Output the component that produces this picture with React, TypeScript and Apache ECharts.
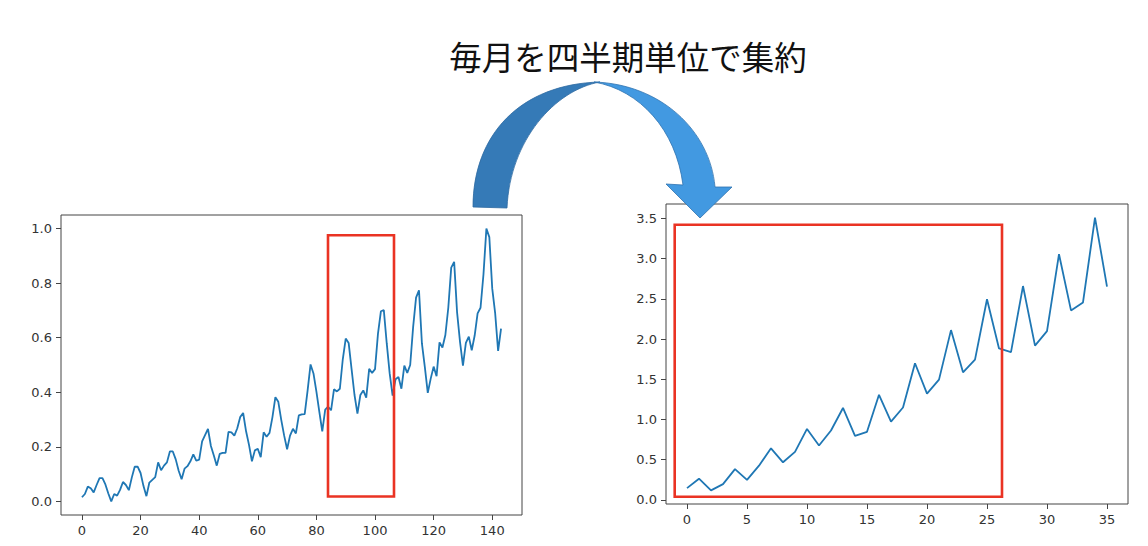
import React, { useEffect, useRef } from "react";
import * as echarts from "echarts";

const titleText = "毎月を四半期単位で集約";

// monthly values, min-max normalised (index 0..143)
const monthly: number[] = [
  0.015, 0.027, 0.054, 0.048, 0.033, 0.06, 0.085, 0.085, 0.062, 0.029, 0.0, 0.027,
  0.021, 0.042, 0.071, 0.06, 0.041, 0.087, 0.127, 0.127, 0.104, 0.056, 0.019, 0.069,
  0.079, 0.089, 0.143, 0.114, 0.131, 0.143, 0.183, 0.183, 0.154, 0.112, 0.081, 0.12,
  0.129, 0.147, 0.172, 0.149, 0.153, 0.22, 0.243, 0.266, 0.203, 0.168, 0.131, 0.174,
  0.178, 0.178, 0.255, 0.253, 0.241, 0.268, 0.309, 0.324, 0.257, 0.207, 0.147, 0.187,
  0.193, 0.162, 0.253, 0.237, 0.251, 0.309, 0.382, 0.365, 0.299, 0.241, 0.191, 0.241,
  0.266, 0.249, 0.315, 0.319, 0.32, 0.407, 0.502, 0.469, 0.402, 0.328, 0.257, 0.336,
  0.347, 0.334, 0.411, 0.403, 0.413, 0.521, 0.597, 0.581, 0.485, 0.39, 0.322, 0.39,
  0.407, 0.38, 0.486, 0.471, 0.485, 0.614, 0.697, 0.701, 0.579, 0.469, 0.388, 0.448,
  0.456, 0.413, 0.498, 0.471, 0.5, 0.639, 0.747, 0.774, 0.579, 0.492, 0.398, 0.45,
  0.494, 0.459, 0.583, 0.564, 0.61, 0.71, 0.857, 0.878, 0.693, 0.585, 0.498, 0.581,
  0.604, 0.554, 0.608, 0.689, 0.71, 0.832, 1.0, 0.969, 0.78, 0.689, 0.552, 0.633,
];

// aggregated values (index 0..35)
const aggregated: number[] = [
  0.145, 0.263, 0.118, 0.195, 0.382, 0.249, 0.425, 0.641, 0.467, 0.597, 0.882, 0.676,
  0.863, 1.143, 0.797, 0.846, 1.307, 0.973, 1.149, 1.699, 1.322, 1.496, 2.112, 1.587,
  1.745, 2.496, 1.884, 1.838, 2.66, 1.919, 2.1, 3.056, 2.357, 2.456, 3.512, 2.654,
];

const leftXTicks = [0, 20, 40, 60, 80, 100, 120, 140];
const leftYTicks = [0, 0.2, 0.4, 0.6, 0.8, 1.0];
const rightXTicks = [0, 5, 10, 15, 20, 25, 30, 35];
const rightYTicks = [0, 0.5, 1.0, 1.5, 2.0, 2.5, 3.0, 3.5];

const ARROW_BACK =
  "M 473 207 C 473 135 520 84 600 82 C 555 90 510 140 507 208 Z";
const ARROW_FRONT =
  "M 594 82 C 660 84 710 130 715 187 L 732 187 L 700 218 L 666 184 L 683 185 C 676 130 640 90 594 82 Z";

echarts.graphic.registerShape("arrowBack", echarts.graphic.extendPath(ARROW_BACK, {}));
echarts.graphic.registerShape("arrowFront", echarts.graphic.extendPath(ARROW_FRONT, {}));

const FRAME = "#444";
const LABEL = "#333";
const LINE = "#1f77b4";
const RED = "#ea3323";

function valueAxis(gridIndex: number, min: number, max: number, ticks: number[], digits: number | null) {
  return {
    type: "value",
    gridIndex,
    min,
    max,
    axisLine: { show: false, onZero: false },
    splitLine: { show: false },
    axisTick: {
      show: true,
      inside: false,
      length: 5,
      lineStyle: { color: FRAME, width: 1 },
      customValues: ticks,
    },
    axisLabel: {
      show: true,
      margin: 9,
      color: LABEL,
      fontSize: 13,
      fontFamily: "DejaVu Sans",
      customValues: ticks,
      formatter: (v: number) => (digits === null ? String(Math.round(v)) : v.toFixed(digits)),
    },
  };
}

export default function App() {
  const ref = useRef<HTMLDivElement>(null);
  useEffect(() => {
    if (!ref.current) return;
    const chart = echarts.init(ref.current, null, { renderer: "svg" });
    const option = {
      animation: false,
      backgroundColor: "#ffffff",
      grid: [
        { left: 61, top: 215, width: 461, height: 300, show: true, borderColor: FRAME, borderWidth: 1, backgroundColor: "transparent" },
        { left: 666, top: 204, width: 462, height: 300, show: true, borderColor: FRAME, borderWidth: 1, backgroundColor: "transparent" },
      ],
      xAxis: [
        valueAxis(0, -7.15, 150.15, leftXTicks, null),
        valueAxis(1, -1.75, 36.75, rightXTicks, null),
      ],
      yAxis: [
        valueAxis(0, -0.05, 1.05, leftYTicks, 1),
        valueAxis(1, -0.052, 3.681, rightYTicks, 1),
      ],
      series: [
        {
          type: "line",
          xAxisIndex: 0,
          yAxisIndex: 0,
          data: monthly.map((v, i) => [i, v]),
          symbol: "none",
          lineStyle: { color: LINE, width: 1.8 },
        },
        {
          type: "line",
          xAxisIndex: 1,
          yAxisIndex: 1,
          data: aggregated.map((v, i) => [i, v]),
          symbol: "none",
          lineStyle: { color: LINE, width: 1.8 },
        },
      ],
      graphic: [
        {
          type: "text",
          x: 628,
          y: 55,
          z: 100,
          style: {
            text: titleText,
            fontSize: 32.5,
            fontFamily: "Noto Sans CJK JP",
            fill: "#111",
            textAlign: "center",
            textVerticalAlign: "middle",
          },
        },
        {
          type: "rect",
          z: 100,
          shape: { x: 328, y: 235.3, width: 66, height: 261.2 },
          style: { fill: "none", stroke: RED, lineWidth: 2.6 },
        },
        {
          type: "rect",
          z: 100,
          shape: { x: 674.7, y: 224.7, width: 327.3, height: 272 },
          style: { fill: "none", stroke: RED, lineWidth: 2.6 },
        },
        {
          type: "arrowBack",
          x: 0,
          y: 0,
          z: 101,
          style: { fill: "#357ab7", stroke: "#2d6aa1", lineWidth: 0.8 },
        },
        {
          type: "arrowFront",
          x: 0,
          y: 0,
          z: 102,
          style: { fill: "#4299e1", stroke: "#2f72b0", lineWidth: 0.8 },
        },
      ],
    };
    chart.setOption(option as any);
    return () => chart.dispose();
  }, []);
  return (
    <div
      ref={ref}
      style={{ position: "fixed", left: 0, top: 0, width: 1148, height: 546, background: "#fff" }}
    />
  );
}
